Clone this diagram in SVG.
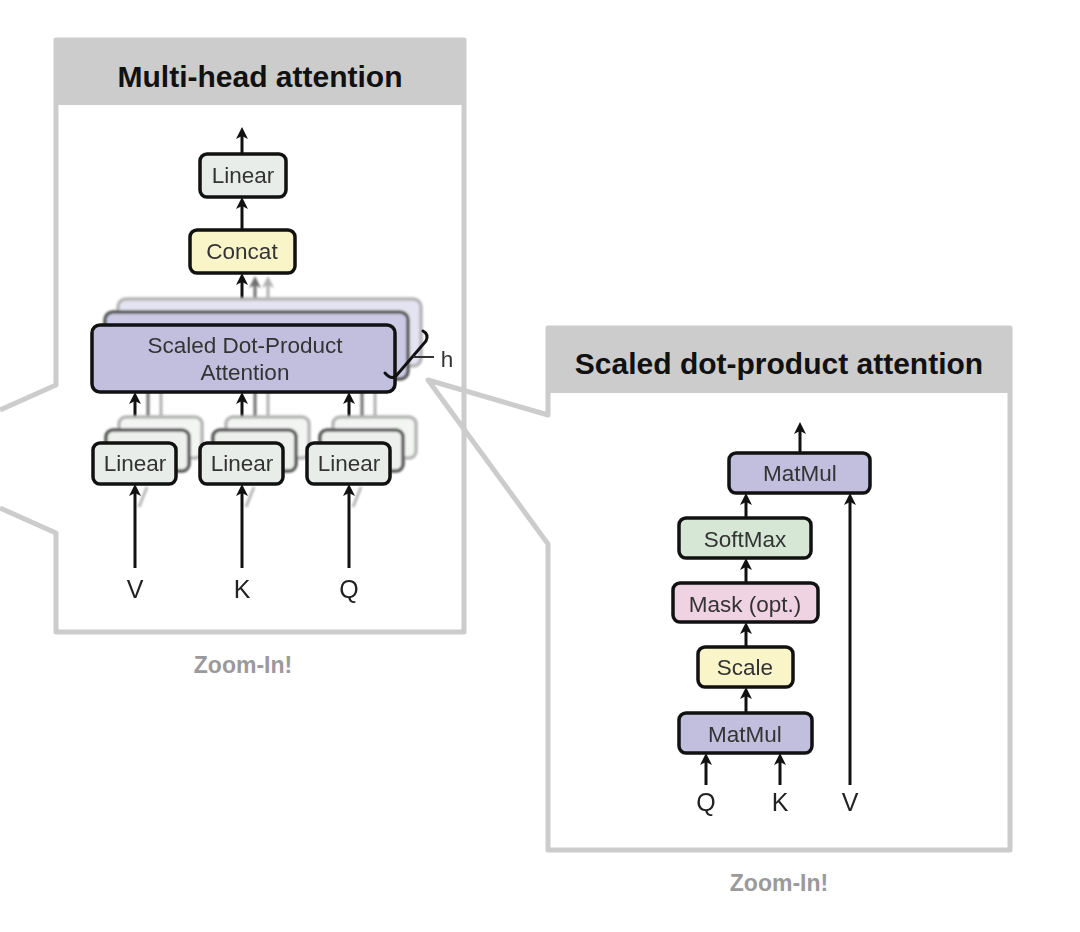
<svg xmlns="http://www.w3.org/2000/svg" width="1080" height="932" viewBox="0 0 1080 932">
<style>
.frame{fill:none;stroke:#cccccc;stroke-width:5;stroke-linejoin:round}
.band{fill:#cccccc}
.title{font-family:"Liberation Sans",Arial,sans-serif;font-weight:bold;font-size:30px;fill:#111;text-anchor:middle}
.zoom{font-family:"Liberation Sans",Arial,sans-serif;font-weight:bold;font-size:23px;fill:#9a9a9a;text-anchor:middle}
.box{stroke:#111;stroke-width:3.5}
.t{font-family:"Liberation Sans",Arial,sans-serif;font-size:22.5px;fill:#333;text-anchor:middle}
.io{font-family:"Liberation Sans",Arial,sans-serif;font-size:25px;fill:#222;text-anchor:middle}
.a{stroke:#111;stroke-width:3;fill:none}
.ag{stroke:#6e6e6e;stroke-width:3;fill:none}
.al{stroke:#b0b0b0;stroke-width:3;fill:none}
.lin{fill:#e9edea}
.sdpa{fill:#c1bfdd}
.yel{fill:#f9f5c9}
.grn{fill:#d6e8d5}
.pnk{fill:#efd3e2}
.b2{stroke:#555;stroke-width:3.5}
.b3{stroke:#b5b5b5;stroke-width:3.5}
</style>
<defs>
<marker id="ah" viewBox="0 0 12 12" refX="8" refY="6" markerWidth="12" markerHeight="12" markerUnits="userSpaceOnUse" orient="auto"><path d="M0,0 L12,6 L0,12 L3,6 Z" fill="#111"/></marker>
<marker id="ahg" viewBox="0 0 12 12" refX="8" refY="6" markerWidth="12" markerHeight="12" markerUnits="userSpaceOnUse" orient="auto"><path d="M0,0 L12,6 L0,12 L3,6 Z" fill="#6e6e6e"/></marker>
<marker id="ahl" viewBox="0 0 12 12" refX="8" refY="6" markerWidth="12" markerHeight="12" markerUnits="userSpaceOnUse" orient="auto"><path d="M0,0 L12,6 L0,12 L3,6 Z" fill="#b0b0b0"/></marker>
<filter id="soft" x="-10%" y="-10%" width="120%" height="120%"><feGaussianBlur stdDeviation="0.9"/></filter>
</defs>
<rect width="1080" height="932" fill="#ffffff"/>

<!-- panel frames -->
<g id="panel-multihead">
<rect class="band" x="54" y="38" width="412" height="67"/>
<path class="frame" d="M0,410 L56,385 L56,40 L464,40 L464,632 L56,632 L56,533 L0,508"/>
<text class="title" x="260" y="87">Multi-head attention</text>
<text class="zoom" x="243" y="673">Zoom-In!</text>
</g>
<g id="panel-scaled">
<rect class="band" x="546" y="326" width="466" height="67"/>
<path class="frame" d="M428,380 L548,415 L548,328 L1010,328 L1010,850 L548,850 L548,544 Z"/>
<text class="title" x="779" y="374">Scaled dot-product attention</text>
<text class="zoom" x="779" y="891">Zoom-In!</text>
</g>

<!-- connectors -->
<g id="connectors">
<!-- multi-head -->
<line class="a" x1="242" y1="154" x2="242" y2="131" marker-end="url(#ah)"/>
<line class="a" x1="242" y1="230" x2="242" y2="201" marker-end="url(#ah)"/>
<line class="a" x1="242" y1="325" x2="242" y2="277" marker-end="url(#ah)"/>
<g filter="url(#soft)">
<line class="ag" x1="255" y1="312" x2="255" y2="280" marker-end="url(#ahg)"/>
<line class="al" x1="268" y1="299" x2="268" y2="280" marker-end="url(#ahl)"/>
<line class="ag" x1="148" y1="430" x2="148" y2="385"/>
<line class="al" x1="161" y1="417" x2="161" y2="372"/>
<line class="ag" x1="255" y1="430" x2="255" y2="385"/>
<line class="al" x1="268" y1="417" x2="268" y2="372"/>
<line class="ag" x1="362" y1="430" x2="362" y2="385"/>
<line class="al" x1="375" y1="417" x2="375" y2="372"/>
<path d="M139,507 L147,487" stroke="#9a9a9a" stroke-width="3" opacity="0.7"/>
<path d="M246,507 L254,487" stroke="#9a9a9a" stroke-width="3" opacity="0.7"/>
<path d="M353,507 L361,487" stroke="#9a9a9a" stroke-width="3" opacity="0.7"/>
</g>
<line class="a" x1="135" y1="443" x2="135" y2="396" marker-end="url(#ah)"/>
<line class="a" x1="242" y1="443" x2="242" y2="396" marker-end="url(#ah)"/>
<line class="a" x1="349" y1="443" x2="349" y2="396" marker-end="url(#ah)"/>
<line class="a" x1="135" y1="568" x2="135" y2="488" marker-end="url(#ah)"/>
<line class="a" x1="242" y1="568" x2="242" y2="488" marker-end="url(#ah)"/>
<line class="a" x1="349" y1="568" x2="349" y2="488" marker-end="url(#ah)"/>
<!-- scaled dot-product -->
<line class="a" x1="800" y1="453" x2="800" y2="426" marker-end="url(#ah)"/>
<line class="a" x1="746" y1="518" x2="746" y2="497" marker-end="url(#ah)"/>
<line class="a" x1="746" y1="583" x2="746" y2="562" marker-end="url(#ah)"/>
<line class="a" x1="746" y1="647" x2="746" y2="626" marker-end="url(#ah)"/>
<line class="a" x1="746" y1="713" x2="746" y2="691" marker-end="url(#ah)"/>
<line class="a" x1="706" y1="785" x2="706" y2="757" marker-end="url(#ah)"/>
<line class="a" x1="780" y1="785" x2="780" y2="757" marker-end="url(#ah)"/>
<line class="a" x1="850" y1="785" x2="850" y2="497" marker-end="url(#ah)"/>
</g>

<!-- multi-head nodes -->
<g id="mh-linear-out">
<rect class="box lin" x="200" y="154" width="86" height="43" rx="7"/>
<text class="t" x="243" y="183">Linear</text>
</g>
<g id="mh-concat">
<rect class="box yel" x="190" y="230" width="105" height="43" rx="7"/>
<text class="t" x="242" y="259">Concat</text>
</g>
<g id="mh-sdpa">
<g filter="url(#soft)">
<rect class="b3" x="118" y="299" width="303" height="67" rx="8" fill="#e4e3f1"/>
<rect class="b2" x="105" y="312" width="303" height="67" rx="8" fill="#cbc9e4"/>
</g>
<rect class="box sdpa" x="92" y="325" width="303" height="67" rx="8"/>
<text class="t" x="245" y="353">Scaled Dot-Product</text>
<text class="t" x="245" y="380">Attention</text>
</g>
<g id="mh-h">
<path d="M423,331 Q429,334 426,341 L396,376 Q391,380 385,373" fill="none" stroke="#111" stroke-width="3" stroke-linecap="round"/>
<line x1="413" y1="357" x2="434" y2="357" stroke="#333" stroke-width="2"/>
<text class="t" x="447" y="367">h</text>
</g>
<g id="mh-linear-v">
<g filter="url(#soft)">
<rect class="b3" x="119" y="417" width="83" height="41" rx="7" fill="#f3f5f3"/>
<rect class="b2" x="106" y="430" width="83" height="41" rx="7" fill="#edf0ed"/>
</g>
<rect class="box lin" x="93" y="443" width="83" height="41" rx="7"/>
<text class="t" x="135" y="471">Linear</text>
</g>
<g id="mh-linear-k">
<g filter="url(#soft)">
<rect class="b3" x="226" y="417" width="83" height="41" rx="7" fill="#f3f5f3"/>
<rect class="b2" x="213" y="430" width="83" height="41" rx="7" fill="#edf0ed"/>
</g>
<rect class="box lin" x="200" y="443" width="83" height="41" rx="7"/>
<text class="t" x="242" y="471">Linear</text>
</g>
<g id="mh-linear-q">
<g filter="url(#soft)">
<rect class="b3" x="333" y="417" width="83" height="41" rx="7" fill="#f3f5f3"/>
<rect class="b2" x="320" y="430" width="83" height="41" rx="7" fill="#edf0ed"/>
</g>
<rect class="box lin" x="307" y="443" width="83" height="41" rx="7"/>
<text class="t" x="349" y="471">Linear</text>
</g>
<g id="mh-inputs">
<text class="io" x="135" y="598">V</text>
<text class="io" x="242" y="598">K</text>
<text class="io" x="349" y="598">Q</text>
</g>

<!-- scaled dot-product nodes -->
<g id="sd-matmul-top">
<rect class="box sdpa" x="729" y="453" width="141" height="40" rx="7"/>
<text class="t" x="800" y="481">MatMul</text>
</g>
<g id="sd-softmax">
<rect class="box grn" x="679" y="518" width="132" height="40" rx="7"/>
<text class="t" x="745" y="547">SoftMax</text>
</g>
<g id="sd-mask">
<rect class="box pnk" x="673" y="583" width="145" height="39" rx="7"/>
<text class="t" x="745" y="612">Mask (opt.)</text>
</g>
<g id="sd-scale">
<rect class="box yel" x="698" y="647" width="95" height="40" rx="7"/>
<text class="t" x="745" y="675">Scale</text>
</g>
<g id="sd-matmul-bottom">
<rect class="box sdpa" x="679" y="713" width="133" height="40" rx="7"/>
<text class="t" x="745" y="742">MatMul</text>
</g>
<g id="sd-inputs">
<text class="io" x="706" y="811">Q</text>
<text class="io" x="780" y="811">K</text>
<text class="io" x="850" y="811">V</text>
</g>
</svg>
